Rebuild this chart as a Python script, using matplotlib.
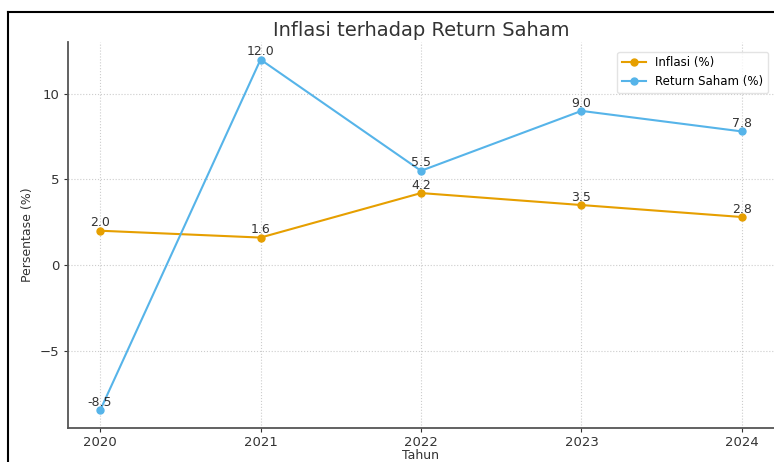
import matplotlib.pyplot as plt
from matplotlib.lines import Line2D

years = [2020, 2021, 2022, 2023, 2024]
inflasi = [2.0, 1.6, 4.2, 3.5, 2.8]
return_saham = [-8.5, 12.0, 5.5, 9.0, 7.8]

W, H = 774, 462
fig = plt.figure(figsize=(W / 100, H / 100), dpi=100)
ax = fig.add_axes([68 / W, 1 - 428 / H, (774 - 68) / W, (428 - 42) / H])

ax.plot(years, inflasi, marker='o', color='#E69F00', markersize=5, linewidth=1.5, label='Inflasi (%)')
ax.plot(years, return_saham, marker='o', color='#56B4E9', markersize=5, linewidth=1.5, label='Return Saham (%)')

for x, y in zip(years, inflasi):
    ax.annotate(f'{y:.1f}', (x, y), xytext=(0, 1), textcoords='offset points',
                ha='center', va='bottom', fontsize=9, color='#333333')
for x, y in zip(years, return_saham):
    ax.annotate(f'{y:.1f}', (x, y), xytext=(0, 1), textcoords='offset points',
                ha='center', va='bottom', fontsize=9, color='#333333')

ax.set_xticks(years)
ax.set_yticks([-5, 0, 5, 10])
ax.set_yticklabels(['\u22125', '0', '5', '10'])
ax.tick_params(labelsize=9.5, colors='#333333', length=3, pad=3)
ax.grid(True, linestyle=':', color='#cccccc', linewidth=0.8)
for s in ['top', 'right']:
    ax.spines[s].set_visible(False)
for s in ['left', 'bottom']:
    ax.spines[s].set_color('#555555')
    ax.spines[s].set_linewidth(1.3)

ax.set_xlabel('Tahun', fontsize=9, color='#333333', labelpad=0)
ax.set_ylabel('Persentase (%)', fontsize=9, color='#333333')
fig.text(421 / W, 1 - 30 / H, 'Inflasi terhadap Return Saham', ha='center', va='center',
         fontsize=14, color='#333333')
ax.legend(loc='upper right', fontsize=8.5, frameon=True, edgecolor='#dddddd',
          bbox_to_anchor=(1.0, 0.99))

# screenshot frame
fig.add_artist(Line2D([8 / W, 8 / W], [0, 1 - 12 / H], color='black', linewidth=1.5))
fig.add_artist(Line2D([8 / W, 1], [1 - 12 / H, 1 - 12 / H], color='black', linewidth=1.5))

fig.savefig('out.png', dpi=100)
